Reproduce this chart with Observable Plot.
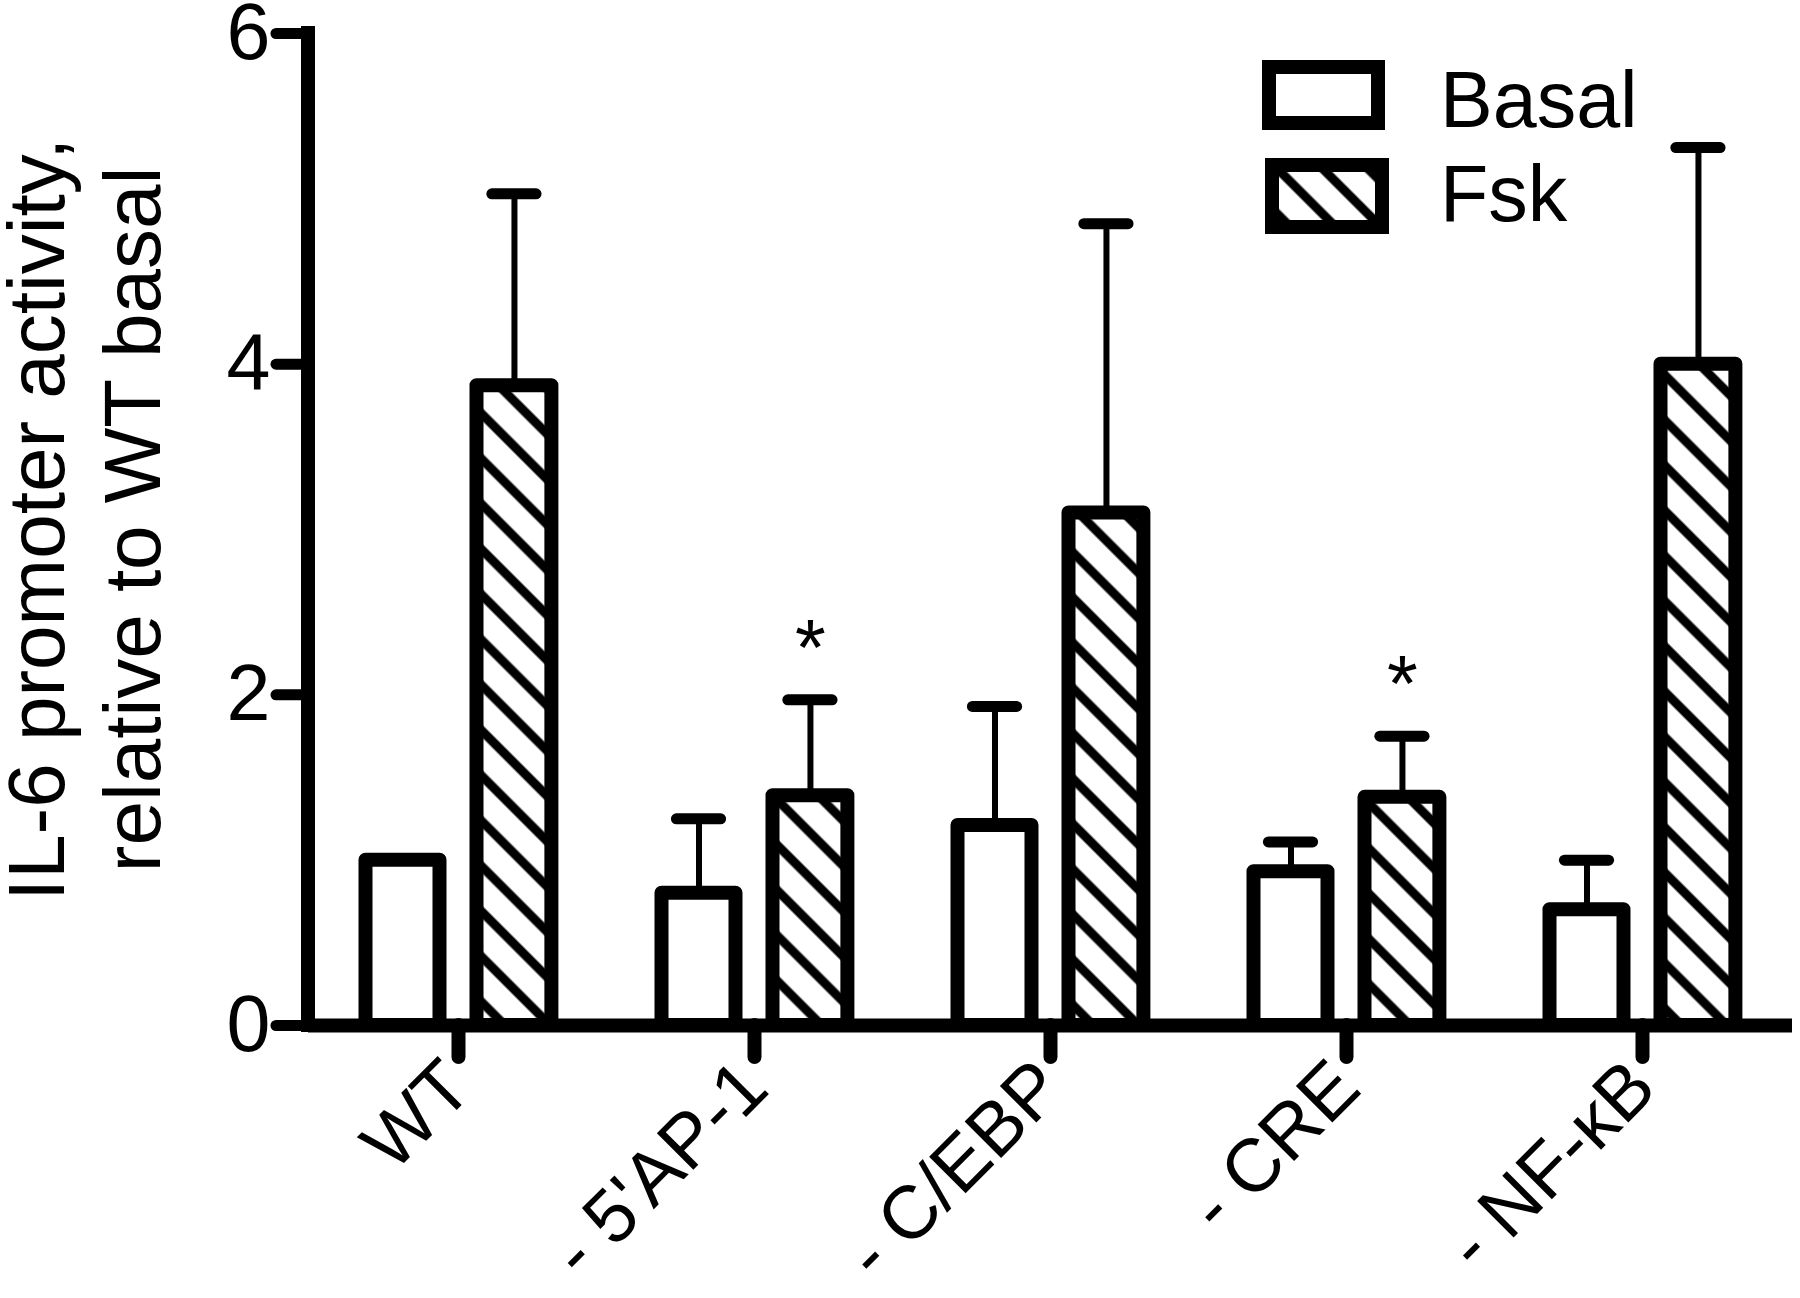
<!DOCTYPE html>
<html>
<head>
<meta charset="utf-8">
<script src="https://cdn.jsdelivr.net/npm/d3@7"></script>
<script src="https://cdn.jsdelivr.net/npm/@observablehq/plot@0.6"></script>
<style>
  body { margin: 0; background: #fff; }
  #wrap { position: relative; width: 1800px; height: 1298px; font-family: "Liberation Sans", Arial, sans-serif; }
  #legend { position: absolute; left: 0; top: 0; pointer-events: none; overflow: visible; }
</style>
</head>
<body>
<svg width="0" height="0" style="position:absolute">
  <defs>
    <pattern id="hatch" patternUnits="userSpaceOnUse" width="32" height="32" patternTransform="rotate(-45)">
      <rect width="32" height="32" fill="white"></rect>
      <line x1="16" y1="-2" x2="16" y2="34" stroke="black" stroke-width="9"></line>
    </pattern>
  </defs>
</svg>
<div id="wrap"></div>
<script>
// ---- data ----
const categories = ["WT", "- 5'AP-1", "- C/EBP", "- CRE", "- NF-κB"];
const series = ["Basal", "Fsk"];
const basalMean = [1.00, 0.80, 1.21, 0.93, 0.70];
const basalErr  = [0.00, 0.45, 0.72, 0.18, 0.30];
const fskMean   = [3.87, 1.39, 3.10, 1.38, 4.00];
const fskErr    = [1.16, 0.58, 1.75, 0.37, 1.31];
const fskSignif = ["", "*", "", "*", ""];
const yTicks = [0, 2, 4, 6];
const yTitle = ["IL-6 promoter activity,", "relative to WT basal"];

// ---- tables ----
const basal = categories.map((c, i) => ({cat: c, v: basalMean[i], e: basalErr[i], top: basalMean[i] + basalErr[i]}));
const fsk = categories.map((c, i) => ({cat: c, v: fskMean[i], e: fskErr[i], top: fskMean[i] + fskErr[i], s: fskSignif[i]}));

// ---- layout ----
const FONT = '"Liberation Sans", Arial, sans-serif';
const FS = 79;
const W = 1800, H = 1298, ML = 308, MR = 8, MT = 33, MB = 273;
const bw = (W - ML - MR) / categories.length;
const geom = {Basal: [0.187, 0.439], Fsk: [0.561, 0.816]};
const center = s => (geom[s][0] + geom[s][1]) / 2 * bw;
const capHalf = 22.5;
const barStroke = 14;

function barOpts(s, fill) {
  return {x: "cat", y: "v", fill, stroke: "black", strokeWidth: barStroke, strokeLinejoin: "round",
          insetLeft: geom[s][0] * bw, insetRight: (1 - geom[s][1]) * bw};
}
function errMarks(data, s) {
  const d = data.filter(r => r.e > 0);
  const c = center(s);
  return [
    Plot.ruleX(d, {x: "cat", y1: "v", y2: "top", dx: c - bw / 2, stroke: "black", strokeWidth: 6}),
    Plot.tickY(d, {x: "cat", y: "top", insetLeft: c - capHalf, insetRight: bw - c - capHalf,
                   stroke: "black", strokeWidth: 11, strokeLinecap: "round"})
  ];
}

const yAxisLine = (index, scales, values, dims) => {
  const g = d3.create("svg:line")
    .attr("x1", dims.marginLeft).attr("x2", dims.marginLeft)
    .attr("y1", scales.y(0)).attr("y2", scales.y(6))
    .attr("stroke", "black").attr("stroke-width", barStroke).attr("stroke-linecap", "square");
  return g.node();
};

const chart = Plot.plot({
  width: W, height: H,
  marginLeft: ML, marginRight: MR, marginTop: MT, marginBottom: MB,
  style: {fontFamily: FONT, fontSize: FS + "px", color: "black", background: "white", overflow: "visible"},
  x: {domain: categories, padding: 0},
  y: {domain: [0, 6]},
  marks: [
    Plot.barY(basal, barOpts("Basal", "white")),
    Plot.barY(fsk, barOpts("Fsk", "url(#hatch)")),
    ...errMarks(basal, "Basal"),
    ...errMarks(fsk, "Fsk"),
    Plot.text(fsk.filter(r => r.s), {x: "cat", y: "top", text: "s", dx: center("Fsk") - bw / 2, dy: -50,
                                     fontSize: FS, fill: "black"}),
    Plot.ruleY([0], {stroke: "black", strokeWidth: barStroke}),
    yAxisLine,
    Plot.axisY({ticks: yTicks, tickSize: 32, tickPadding: 6, strokeWidth: 11, strokeLinecap: "round",
                fontSize: FS, label: null, tickFormat: d => String(d)}),
    Plot.axisX({tickRotate: -45, tickSize: 32, tickPadding: 17, strokeWidth: 14, strokeLinecap: "round",
                fontSize: 75, label: null}),
    Plot.text([yTitle.join("\n")], {text: d => d, frameAnchor: "left", rotate: -90, dx: -227, dy: -10,
                                     lineHeight: 1.19, fontSize: 80, textAnchor: "middle", fill: "black"})
  ]
});

const wrap = document.getElementById("wrap");
wrap.appendChild(chart);

// ---- legend (drawn over the plot area, top right) ----
const legendItems = [
  {name: series[0], fill: "white", x: 1262, y: 60, w: 123, h: 70, tx: 1440, ty: 127},
  {name: series[1], fill: "url(#hatch)", x: 1265, y: 158, w: 124, h: 76, tx: 1440, ty: 221}
];
const lg = d3.select(wrap).append("svg").attr("id", "legend").attr("width", W).attr("height", H);
const sw = 14;
for (const it of legendItems) {
  lg.append("rect").attr("x", it.x + sw / 2).attr("y", it.y + sw / 2)
    .attr("width", it.w - sw).attr("height", it.h - sw)
    .attr("fill", it.fill).attr("stroke", "black").attr("stroke-width", sw);
  lg.append("text").attr("x", it.tx).attr("y", it.ty).text(it.name)
    .attr("font-family", FONT).attr("font-size", FS).attr("fill", "black");
}
</script>
</body>
</html>
